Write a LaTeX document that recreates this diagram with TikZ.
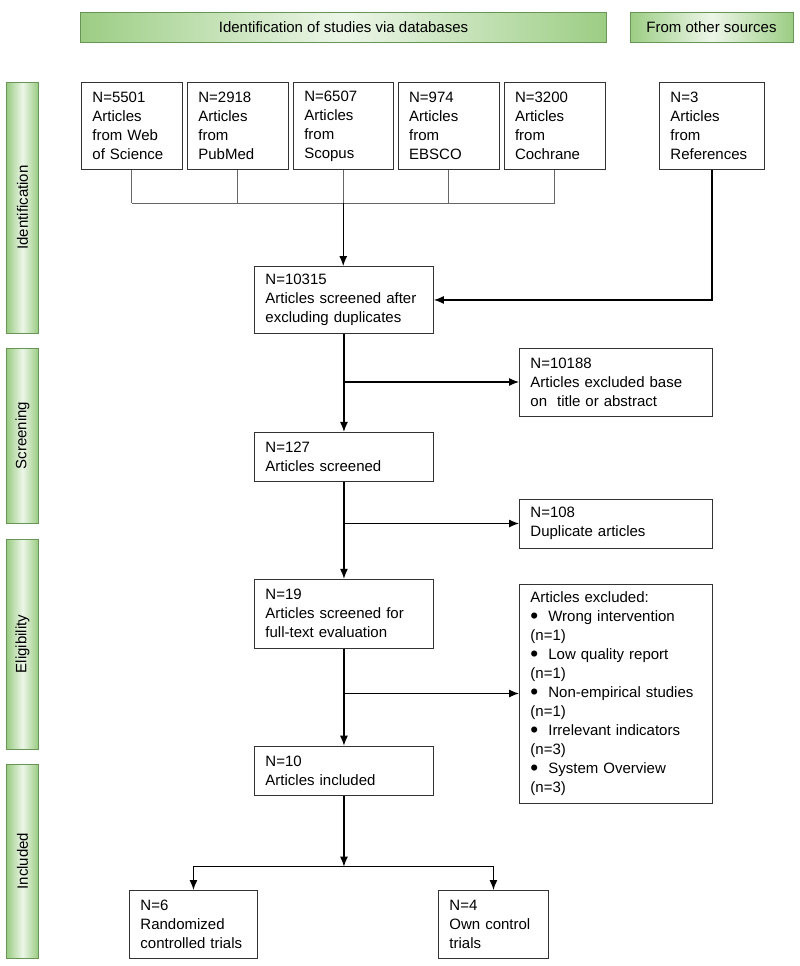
\documentclass[tikz,border=0pt]{standalone}
\usepackage{fontspec}
\usepackage{graphicx}
\setmainfont{Liberation Sans}
\usetikzlibrary{positioning, arrows.meta}
\definecolor{bandgreen}{RGB}{156,205,132}
\definecolor{bandlight}{RGB}{236,246,232}
\definecolor{bandedge}{RGB}{104,148,86}
\newcommand{\dotitem}{\raisebox{-2.4bp}{\scalebox{1.5}{\textbullet}}\ \ }
\tikzstyle{record}=[rectangle, draw=black!80, line width=0.9bp, fill=white, align=left, inner xsep=11bp, inner ysep=2bp, anchor=north west, font=\fontsize{15bp}{19bp}\selectfont]
\tikzstyle{band}=[rectangle, draw=bandedge, line width=1bp, left color=bandgreen, right color=bandgreen, middle color=bandlight, font=\fontsize{15bp}{18bp}\selectfont, inner sep=0pt]
\tikzstyle{phase}=[band, rotate=90, minimum height=31bp]
\tikzstyle{flow}=[line width=1.2bp, black]
\tikzstyle{feeder}=[line width=1bp, black!60]

\begin{document}
\begin{tikzpicture}[x=1bp, y=-1bp, >={Latex[length=10bp, width=8bp]}]
    \useasboundingbox (0,0) rectangle (800,966);

    % headers and phases
    \node (dbhead) [band, minimum width=525bp, minimum height=30bp] at (343.5,27) {Identification of studies via databases};
    \node (otherhead) [band, minimum width=163bp, minimum height=30bp] at (711.5,27) {From other sources};
    \node (idphase) [phase, minimum width=251bp] at (22.5,207.5) {Identification};
    \node (scrphase) [phase, minimum width=175bp] at (22.5,435.5) {Screening};
    \node (eligphase) [phase, minimum width=210bp] at (22.5,644) {Eligibility};
    \node (inclphase) [phase, minimum width=194bp] at (22.5,861) {Included};

    % sources
    \node (wos) [record, text width=79bp, minimum height=87bp] at (81,82)
        {N=5501\\Articles\\from Web\\of Science};
    \node (pubmed) [record, text width=79bp, minimum height=87bp, right=4bp of wos]
        {N=2918\\Articles\\from\\PubMed};
    \node (scopus) [record, text width=78bp, minimum height=87bp, right=4bp of pubmed]
        {N=6507\\Articles\\from\\Scopus};
    \node (ebsco) [record, text width=79bp, minimum height=87bp, right=4bp of scopus]
        {N=974\\Articles\\from\\EBSCO};
    \node (cochrane) [record, text width=79bp, minimum height=87bp, right=4bp of ebsco]
        {N=3200\\Articles\\from\\Cochrane};
    \node (refs) [record, text width=83bp, minimum height=87bp] at (659,82)
        {N=3\\Articles\\from\\References};

    % main chain
    \node (dedup) [record, text width=157bp, minimum height=67bp] at (254,266)
        {N=10315\\Articles screened after\\excluding duplicates};
    \node (screened) [record, text width=157bp, minimum height=49bp, below=98bp of dedup]
        {N=127\\Articles screened};
    \node (fulltext) [record, text width=157bp, minimum height=69bp, below=97bp of screened]
        {N=19\\Articles screened for\\full-text evaluation};
    \node (included) [record, text width=157bp, minimum height=49bp, below=97bp of fulltext]
        {N=10\\Articles included};

    % exclusions
    \node (exclone) [record, text width=171bp, minimum height=68bp, anchor=west] at (519,382)
        {N=10188\\Articles excluded base\\on\ \ title or abstract};
    \node (excltwo) [record, text width=171bp, minimum height=49bp, anchor=west] at (519,523.5)
        {N=108\\Duplicate articles};
    \node (exclthree) [record, text width=171bp, minimum height=219bp, anchor=west] at (519,693.5)
        {Articles excluded:\\
         \dotitem Wrong intervention\\(n=1)\\
         \dotitem Low quality report\\(n=1)\\
         \dotitem Non-empirical studies\\(n=1)\\
         \dotitem Irrelevant indicators\\(n=3)\\
         \dotitem System Overview\\(n=3)};

    % outcomes
    \node (rct) [record, text width=106bp, minimum height=68bp] at (129,890)
        {N=6\\Randomized\\controlled trials};
    \node (own) [record, text width=88bp, minimum height=68bp] at (438,890)
        {N=4\\Own control\\trials};

    % connectors
    \coordinate (join) at (scopus.south |- 0,203);
    \coordinate (split) at ([yshift=-71bp]included.south);
    \foreach \src in {wos,pubmed,scopus,ebsco,cochrane}
        \draw[feeder] (\src.south) -- (\src.south |- join);
    \draw[feeder] (wos.south |- join) -- (cochrane.south |- join);
    \draw[flow,->] (join) -- (join |- dedup.north);
    \draw[flow,->] (refs) |- (dedup);
    \draw[flow,->] (dedup) -- (screened);
    \draw[flow,->] (dedup.south |- exclone.west) -- (exclone);
    \draw[flow,->] (screened) -- (fulltext);
    \draw[flow,->] (screened.south |- excltwo.west) -- (excltwo);
    \draw[flow,->] (fulltext) -- (included);
    \draw[flow,->] (fulltext.south |- exclthree.west) -- (exclthree);
    \draw[flow,->] (included) -- (split);
    \draw[flow,->] (split) -| (rct);
    \draw[flow,->] (split) -| (own);
\end{tikzpicture}
\end{document}
